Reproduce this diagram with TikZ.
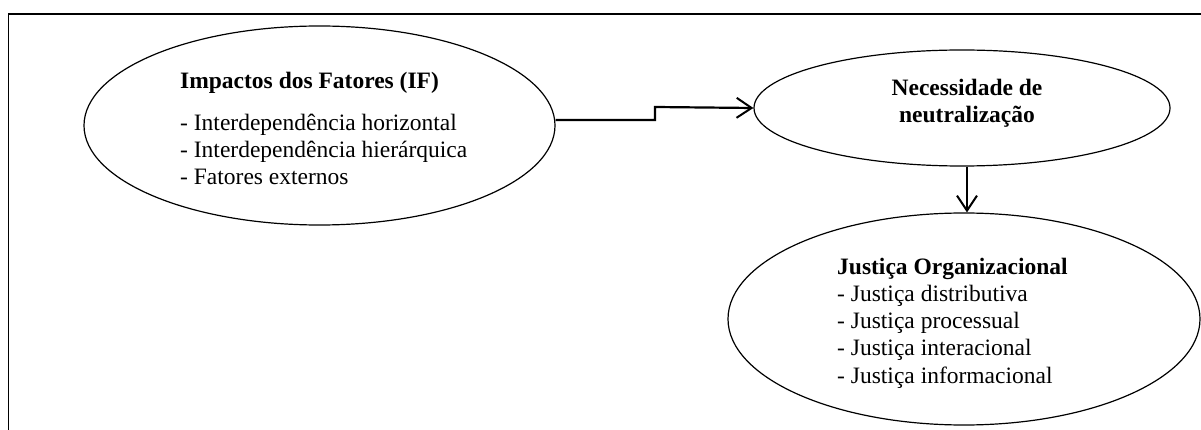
\documentclass[tikz,border=0pt]{standalone}
\usepackage{fontspec}
\setmainfont{Liberation Serif}
\usetikzlibrary{shapes.geometric,arrows.meta,calc}
\begin{document}
\begin{tikzpicture}[x=1pt,y=-1pt,
  oval/.style={ellipse, draw, line width=1.2pt, inner sep=0pt},
  txt/.style={font=\fontsize{23.5}{27}\selectfont, inner sep=0pt},
  btxt/.style={font=\fontsize{23.5}{27}\selectfont\bfseries, inner sep=0pt},
  conn/.style={line width=2.2pt, -{Straight Barb[length=15pt,width=20pt,line width=2pt]}}]
\useasboundingbox (0,0) rectangle (1201,430);
\draw[line width=1.5pt] (8.5,430) -- (8.5,14) -- (1201,14);

% ellipses
\node[oval, minimum width=471pt, minimum height=199pt] (L) at (319.5,125.5) {};
\node[oval, minimum width=416pt, minimum height=116pt] (N) at (962,108) {};
\node[oval, minimum width=472pt, minimum height=212pt] (J) at (964,319) {};

% left texts
\node[btxt, anchor=base west] (l0) at (180,89) {Impactos dos Fatores (IF)};
\node[txt, anchor=base west] (l1) at (180,131) {- Interdependência horizontal};
\node[txt, anchor=base west] (l2) at (180,158) {- Interdependência hierárquica};
\node[txt, anchor=base west] (l3) at (180,185) {- Fatores externos};

% top right texts
\node[btxt, anchor=base] (n0) at (967,96) {Necessidade de};
\node[btxt, anchor=base] (n1) at (967,123) {neutralização};

% bottom right texts
\node[btxt, anchor=base west] (j0) at (837,274) {Justiça Organizacional};
\node[txt, anchor=base west] (j1) at (837,301.3) {- Justiça distributiva};
\node[txt, anchor=base west] (j2) at (837,328.6) {- Justiça processual};
\node[txt, anchor=base west] (j3) at (837,355.9) {- Justiça interacional};
\node[txt, anchor=base west] (j4) at (837,383.2) {- Justiça informacional};

% connectors
\coordinate (s1) at (655,120);
\coordinate (s2) at (655,107);
\coordinate (v) at (967,0);
\draw[conn] ($(L.east)+(0,-5.5)$) -- (s1) -- (s2) -- (N.west);
\draw[conn] (N.south -| v) -- (J.north -| v);
\end{tikzpicture}
\end{document}
